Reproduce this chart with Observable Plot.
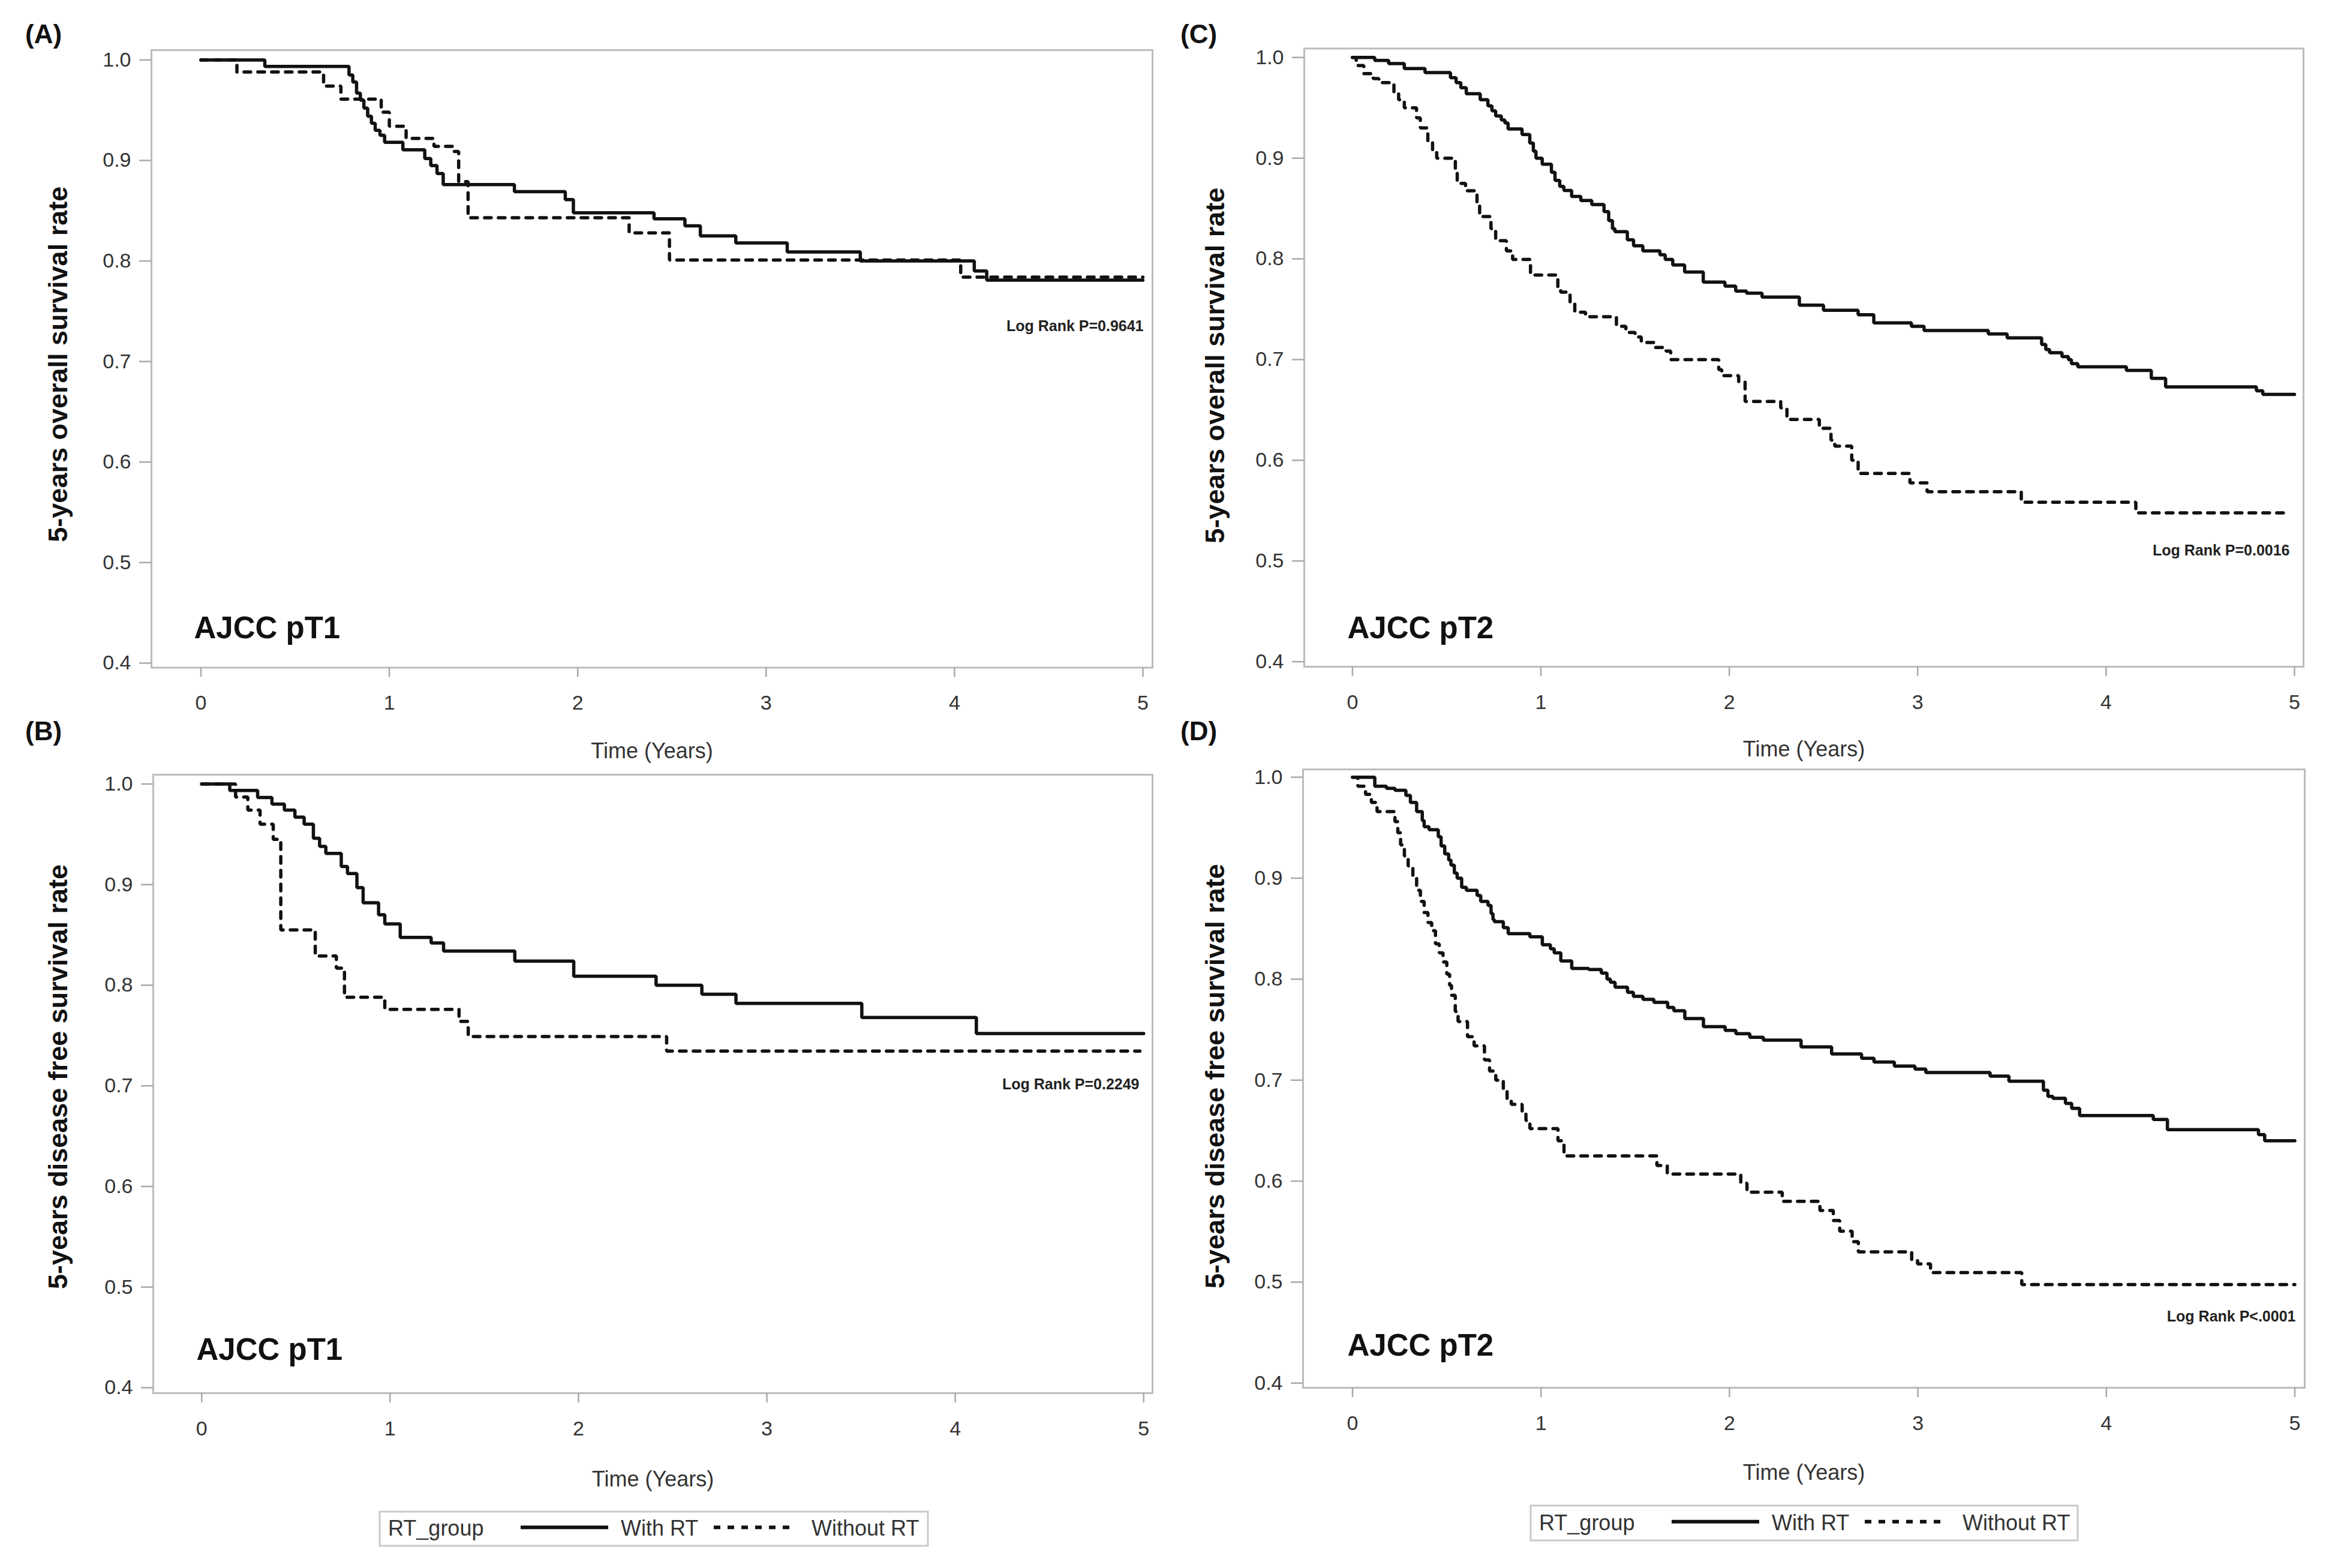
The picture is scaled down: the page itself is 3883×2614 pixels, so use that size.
<!DOCTYPE html>
<html><head><meta charset="utf-8">
<script src="https://cdn.jsdelivr.net/npm/d3@7"></script>
<script src="https://cdn.jsdelivr.net/npm/@observablehq/plot@0.6"></script>
<style>
html,body{margin:0;padding:0;background:#fff;}
#page{position:relative;width:3883px;height:2614px;overflow:hidden;background:#fff;font-family:"Liberation Sans",Arial,sans-serif;}
#page > svg, #page > figure{position:absolute;margin:0;}
</style></head><body><div id="page"></div>
<script>
// ---------- data (time in years, survival probability) ----------
const timeTicks = [0, 1, 2, 3, 4, 5];
const rateTicks = [0.4, 0.5, 0.6, 0.7, 0.8, 0.9, 1.0];
const groupNames = ["With RT", "Without RT"];
const panelLetters = ["(A)", "(B)", "(C)", "(D)"];
const stageLabels = ["AJCC pT1", "AJCC pT1", "AJCC pT2", "AJCC pT2"];
const yTitles = ["5-years overall survival rate", "5-years disease free survival rate",
                 "5-years overall survival rate", "5-years disease free survival rate"];
const logRankTexts = ["Log Rank P=0.9641", "Log Rank P=0.2249", "Log Rank P=0.0016", "Log Rank P<.0001"];

// (A) pT1 overall survival
const A_withRT = [[0,1],[0.339,0.9935],[0.786,0.985],[0.806,0.978],[0.826,0.967],[0.846,0.960],[0.865,0.952],[0.885,0.944],[0.905,0.937],[0.925,0.930],[0.950,0.925],[0.975,0.918],[1.072,0.9106],[1.188,0.902],[1.220,0.895],[1.253,0.887],[1.286,0.876],[1.664,0.869],[1.934,0.861],[1.977,0.848],[2.405,0.842],[2.569,0.835],[2.651,0.825],[2.839,0.818],[3.112,0.809],[3.5,0.800],[4.105,0.790],[4.171,0.781],[5.0,0.781]];
const A_withoutRT = [[0,1],[0.191,0.988],[0.651,0.974],[0.743,0.961],[0.957,0.948],[1.0,0.934],[1.089,0.922],[1.237,0.914],[1.336,0.909],[1.368,0.879],[1.418,0.843],[2.273,0.828],[2.487,0.801],[4.033,0.784],[5.0,0.784]];

// (B) pT1 disease free survival
const B_withRT = [[0,1],[0.149,0.9936],[0.297,0.9866],[0.373,0.980],[0.439,0.974],[0.495,0.967],[0.544,0.960],[0.593,0.946],[0.626,0.938],[0.659,0.931],[0.741,0.918],[0.774,0.911],[0.824,0.897],[0.857,0.882],[0.939,0.870],[0.972,0.861],[1.054,0.8475],[1.218,0.842],[1.284,0.834],[1.662,0.824],[1.975,0.809],[2.412,0.800],[2.655,0.791],[2.836,0.782],[3.504,0.768],[4.112,0.752],[5.0,0.752]];
const B_withoutRT = [[0,1],[0.18,0.987],[0.245,0.974],[0.31,0.960],[0.38,0.945],[0.42,0.855],[0.603,0.829],[0.715,0.817],[0.758,0.788],[0.972,0.776],[1.366,0.764],[1.415,0.749],[2.468,0.7345],[4.98,0.7345]];

// (C) pT2 overall survival
const C_withRT = [[0,1],[0.118,0.997],[0.192,0.994],[0.275,0.989],[0.385,0.985],[0.52,0.980],[0.55,0.975],[0.575,0.970],[0.604,0.964],[0.678,0.958],[0.719,0.952],[0.74,0.947],[0.76,0.942],[0.79,0.938],[0.809,0.935],[0.826,0.929],[0.90,0.9235],[0.941,0.915],[0.96,0.907],[0.974,0.900],[1.007,0.894],[1.056,0.886],[1.075,0.878],[1.10,0.872],[1.122,0.868],[1.163,0.862],[1.212,0.858],[1.270,0.854],[1.335,0.847],[1.36,0.838],[1.38,0.830],[1.393,0.827],[1.459,0.819],[1.492,0.813],[1.541,0.808],[1.632,0.804],[1.66,0.7995],[1.70,0.794],[1.763,0.787],[1.862,0.777],[1.977,0.773],[2.034,0.768],[2.092,0.766],[2.174,0.762],[2.372,0.754],[2.50,0.749],[2.684,0.7445],[2.767,0.7365],[2.967,0.733],[3.034,0.7288],[3.375,0.7254],[3.475,0.7215],[3.658,0.715],[3.68,0.710],[3.700,0.7068],[3.766,0.703],[3.80,0.700],[3.816,0.696],[3.850,0.6928],[4.108,0.6893],[4.240,0.6813],[4.316,0.6729],[4.798,0.669],[4.832,0.6655],[5.0,0.6655]];
const C_withoutRT = [[0,1],[0.02,0.992],[0.06,0.984],[0.11,0.979],[0.14,0.975],[0.22,0.966],[0.245,0.958],[0.275,0.950],[0.34,0.940],[0.36,0.930],[0.40,0.917],[0.425,0.908],[0.447,0.900],[0.546,0.889],[0.556,0.875],[0.60,0.8676],[0.661,0.855],[0.675,0.842],[0.735,0.830],[0.76,0.818],[0.817,0.808],[0.85,0.7995],[0.945,0.784],[1.09,0.772],[1.105,0.767],[1.155,0.755],[1.18,0.747],[1.237,0.7425],[1.401,0.733],[1.451,0.727],[1.50,0.7225],[1.533,0.717],[1.60,0.712],[1.664,0.7085],[1.689,0.700],[1.944,0.690],[1.96,0.684],[2.05,0.678],[2.084,0.6585],[2.273,0.652],[2.306,0.6405],[2.478,0.6317],[2.54,0.620],[2.56,0.614],[2.65,0.600],[2.684,0.587],[2.959,0.5775],[3.05,0.5688],[3.55,0.5583],[4.158,0.5478],[4.965,0.5478]];

// (D) pT2 disease free survival
const D_withRT = [[0,1],[0.118,0.991],[0.18,0.989],[0.225,0.987],[0.283,0.982],[0.307,0.975],[0.34,0.966],[0.37,0.957],[0.38,0.951],[0.406,0.948],[0.455,0.941],[0.47,0.932],[0.489,0.924],[0.51,0.918],[0.522,0.913],[0.54,0.905],[0.555,0.900],[0.579,0.891],[0.604,0.888],[0.661,0.883],[0.68,0.877],[0.719,0.873],[0.735,0.865],[0.745,0.859],[0.752,0.857],[0.80,0.851],[0.826,0.845],[0.941,0.842],[1.007,0.834],[1.05,0.830],[1.07,0.826],[1.105,0.818],[1.163,0.8106],[1.253,0.8096],[1.32,0.806],[1.35,0.800],[1.368,0.797],[1.393,0.792],[1.459,0.787],[1.49,0.783],[1.541,0.780],[1.599,0.777],[1.672,0.772],[1.705,0.7687],[1.763,0.761],[1.862,0.753],[1.977,0.7493],[2.034,0.746],[2.108,0.7424],[2.18,0.7397],[2.38,0.733],[2.542,0.726],[2.701,0.7217],[2.767,0.718],[2.875,0.714],[2.984,0.711],[3.042,0.7075],[3.383,0.704],[3.483,0.699],[3.666,0.690],[3.69,0.684],[3.716,0.682],[3.783,0.677],[3.816,0.672],[3.858,0.665],[4.249,0.661],[4.324,0.651],[4.807,0.646],[4.840,0.640],[5.0,0.640]];
const D_withoutRT = [[0,1],[0.028,0.991],[0.069,0.983],[0.10,0.975],[0.13,0.966],[0.225,0.956],[0.24,0.945],[0.255,0.933],[0.275,0.922],[0.295,0.912],[0.32,0.900],[0.34,0.888],[0.36,0.877],[0.38,0.866],[0.40,0.856],[0.42,0.848],[0.44,0.835],[0.46,0.826],[0.48,0.817],[0.50,0.805],[0.515,0.794],[0.525,0.784],[0.545,0.768],[0.56,0.758],[0.61,0.743],[0.645,0.734],[0.70,0.720],[0.727,0.709],[0.76,0.700],[0.80,0.690],[0.82,0.680],[0.842,0.676],[0.90,0.668],[0.92,0.660],[0.941,0.652],[1.09,0.640],[1.122,0.625],[1.615,0.6155],[1.67,0.607],[2.06,0.598],[2.093,0.589],[2.28,0.580],[2.48,0.571],[2.551,0.561],[2.585,0.5505],[2.651,0.540],[2.684,0.530],[2.967,0.522],[2.998,0.518],[3.067,0.5095],[3.551,0.4976],[5.0,0.4976]];

const seriesWith = [A_withRT, B_withRT, C_withRT, D_withRT];
const seriesWithout = [A_withoutRT, B_withoutRT, C_withoutRT, D_withoutRT];

// ---------- layout (pixels) ----------
const FONT = '"Liberation Sans", Arial, Helvetica, sans-serif';
const layouts = [
  {left:0, top:0, w:1950, h:1280, ml:252, mr:29, mt:83, mb:167.5, xd:[-0.2627,5.051], yd:[0.3955,1.0098],
   ytx:-155, yty:9, xlab:151, stage:[71,-49.5], lr:[-15,468.6]},
  {left:0, top:1280, w:1950, h:1220, ml:255, mr:29, mt:11, mb:178, xd:[-0.257,5.047], yd:[0.3946,1.00924],
   ytx:-158, yty:-12, xlab:155, stage:[72,-56], lr:[-22,524]},
  {left:1950, top:0, w:1933, h:1275, ml:224, mr:43, mt:80.4, mb:164, xd:[-0.256,5.048], yd:[0.395,1.00888],
   ytx:-148, yty:13, xlab:149, stage:[72,-48], lr:[-23,845]},
  {left:1950, top:1275, w:1933, h:1225, ml:222, mr:41, mt:7.2, mb:187, xd:[-0.2627,5.0525], yd:[0.3954,1.0077],
   ytx:-146, yty:-4, xlab:153, stage:[74,-54], lr:[-15,920]}
];

const page = document.getElementById("page");

layouts.forEach((L, i) => {
  const chart = Plot.plot({
    width: L.w, height: L.h,
    marginLeft: L.ml, marginRight: L.mr, marginTop: L.mt, marginBottom: L.mb,
    style: {fontFamily: FONT, fontSize: "34px", background: "transparent", overflow: "visible", color: "#333"},
    x: {domain: L.xd},
    y: {domain: L.yd},
    marks: [
      Plot.frame({stroke: "#bcbcbc", strokeWidth: 3}),
      Plot.axisX({ticks: timeTicks, tickSize: 16, tickPadding: 30, stroke: "#a9a9a9", strokeWidth: 2.5,
                  fill: "#333", fontSize: 34, tickFormat: d3.format("d"), label: null}),
      Plot.axisY({ticks: rateTicks, tickSize: 20, tickPadding: 14, stroke: "#a9a9a9", strokeWidth: 2.5,
                  fill: "#333", fontSize: 34, tickFormat: d3.format(".1f"), label: null}),
      Plot.line(seriesWith[i], {x: d => d[0], y: d => d[1], curve: "step-after",
                stroke: "#111", strokeWidth: 5.5, strokeLinejoin: "miter"}),
      Plot.line(seriesWithout[i], {x: d => d[0], y: d => d[1], curve: "step-after",
                stroke: "#111", strokeWidth: 5.5, strokeDasharray: "11,12", strokeLinejoin: "miter"}),
      Plot.text([yTitles[i]], {text: d => d, frameAnchor: "left", dx: L.ytx, dy: L.yty, rotate: -90,
                textAnchor: "middle", lineAnchor: "middle", fontSize: 45, fontWeight: "bold", fill: "#111"}),
      Plot.text(["Time (Years)"], {text: d => d, frameAnchor: "bottom", dy: L.xlab, textAnchor: "middle",
                lineAnchor: "bottom", fontSize: 36, fill: "#333"}),
      Plot.text([stageLabels[i]], {text: d => d, frameAnchor: "bottom-left", dx: L.stage[0], dy: L.stage[1],
                textAnchor: "start", lineAnchor: "bottom", fontSize: 51, fontWeight: "bold", fill: "#111"}),
      Plot.text([logRankTexts[i]], {text: d => d, frameAnchor: "top-right", dx: L.lr[0], dy: L.lr[1],
                textAnchor: "end", lineAnchor: "bottom", fontSize: 25, fontWeight: "bold", fill: "#222"})
    ]
  });
  chart.style.left = L.left + "px";
  chart.style.top = L.top + "px";
  page.appendChild(chart);
});

// ---------- overlay: panel letters and legends ----------
const ov = d3.select(page).append("svg")
  .attr("width", 3883).attr("height", 2614)
  .style("position", "absolute").style("left", "0px").style("top", "0px")
  .style("pointer-events", "none")
  .style("font-family", FONT);

const letterPos = [[42, 72], [42, 1234], [1968, 72], [1968, 1234]];
panelLetters.forEach((t, i) => {
  ov.append("text").attr("x", letterPos[i][0]).attr("y", letterPos[i][1])
    .attr("font-size", 44).attr("font-weight", "bold").attr("fill", "#111").text(t);
});

const legendBoxes = [[633, 2520, 914, 57], [2552, 2510, 912, 58]];
legendBoxes.forEach(([x, y, w, h]) => {
  const g = ov.append("g").attr("transform", `translate(${x},${y})`);
  g.append("rect").attr("x", 0).attr("y", 0).attr("width", w).attr("height", h)
    .attr("fill", "white").attr("stroke", "#c9c9c9").attr("stroke-width", 3);
  const base = h * 0.70, mid = h * 0.46;
  g.append("text").attr("x", 14).attr("y", base).attr("font-size", 36).attr("fill", "#333").text("RT_group");
  g.append("line").attr("x1", 235).attr("x2", 381).attr("y1", mid).attr("y2", mid)
    .attr("stroke", "#111").attr("stroke-width", 6);
  g.append("text").attr("x", 402).attr("y", base).attr("font-size", 36).attr("fill", "#333").text(groupNames[0]);
  g.append("line").attr("x1", 557).attr("x2", 692).attr("y1", mid).attr("y2", mid)
    .attr("stroke", "#111").attr("stroke-width", 6).attr("stroke-dasharray", "11,12");
  g.append("text").attr("x", 720).attr("y", base).attr("font-size", 36).attr("fill", "#333").text(groupNames[1]);
});
</script></body></html>
